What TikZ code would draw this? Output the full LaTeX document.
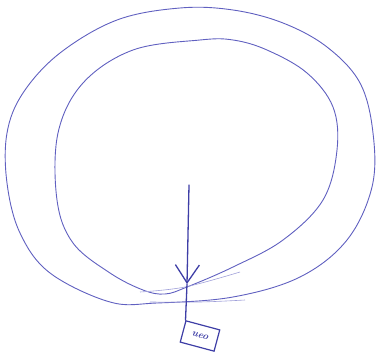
\documentclass[tikz,border=0pt]{standalone}
\usetikzlibrary{arrows.meta}
\definecolor{pen}{HTML}{6060C0}
\definecolor{penD}{HTML}{3E3EA6}
\tikzset{
  loop/.style={draw=pen, line width=0.9pt, line join=round},
  faint/.style={draw=pen!60, line width=0.6pt},
  stroke/.style={draw=penD, line width=1.3pt, line cap=round},
  tag/.style={draw=penD, line width=1.2pt, minimum width=35pt, minimum height=22pt, inner sep=1pt, rotate=-15, font=\itshape\bfseries, text=penD},
}
\begin{document}
\begin{tikzpicture}[x=1pt,y=-1pt]
\useasboundingbox (0,0) rectangle (380,355);
% outer loop
\draw[loop] plot[smooth cycle, tension=0.6] coordinates {
 (180,8) (233,10) (283,23) (327,47) (360,83) (373,133) (372,187) (347,240)
 (300,277) (233,297) (157,303) (110,302) (50,273) (20,233) (7,183) (7,133)
 (23,93) (60,53) (117,20)};
% inner loop
\draw[loop] plot[smooth cycle, tension=0.6] coordinates {
 (200,40) (233,40) (267,50) (307,73) (333,107) (337,150) (323,200) (283,240)
 (233,267) (187,287) (165,294) (143,290) (110,273) (73,243) (57,200) (58,133)
 (83,83) (133,50)};
% extra strokes near the bottom
\draw[faint] plot[smooth, tension=0.6] coordinates {(140,292) (185,287) (240,272)};
\draw[faint] plot[smooth, tension=0.6] coordinates {(150,302) (200,302) (245,300)};
% nodes
\coordinate (top) at (189,185);
\coordinate (tip) at (187,284);
\node[tag] (box) at (200,336) {ueo};
\draw[stroke, -{Straight Barb[length=18pt,width=24pt,line width=1.3pt]}] (top) -- (tip);
\draw[stroke] (tip) -- (box.north west);
\end{tikzpicture}
\end{document}
